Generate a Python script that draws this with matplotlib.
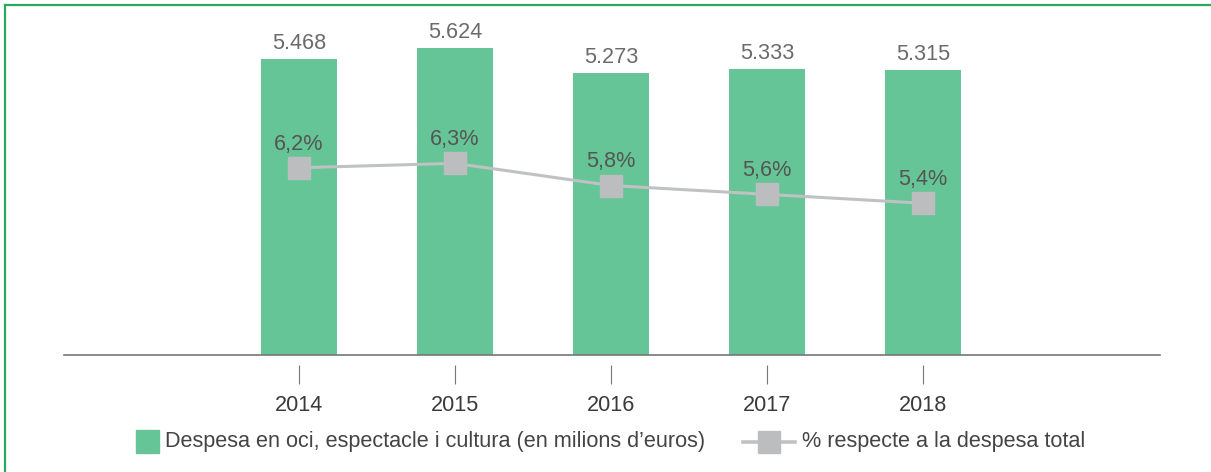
import matplotlib.pyplot as plt
from matplotlib.lines import Line2D
from matplotlib.patches import Rectangle

plt.rcParams["font.family"] = ["Liberation Sans", "DejaVu Sans"]

years = ["2014", "2015", "2016", "2017", "2018"]
despesa = [5468, 5624, 5273, 5333, 5315]
percent = [6.2, 6.3, 5.8, 5.6, 5.4]

BAR_COLOR = "#66c596"
LINE_COLOR = "#c0c1c3"
MARKER_COLOR = "#bcbdbf"
FRAME_COLOR = "#2aa864"
FS = 15.6

W, H = 1211, 472
fig = plt.figure(figsize=(W / 100, H / 100), dpi=100)

# axes box in pixel terms
left, right, bottom, top = 64, 1160, 355, 20
ax = fig.add_axes([left / W, 1 - bottom / H, (right - left) / W, (bottom - top) / H])
ax2 = ax.twinx()

x = list(range(len(years)))
ax.bar(x, despesa, width=0.487, bottom=0, color=BAR_COLOR, zorder=2)
ax.set_xlim(-1.506, 5.519)
ax.set_ylim(1314, 6020)

for xi, v in zip(x, despesa):
    label = f"{v / 1000:.3f}"
    ax.annotate(label, (xi, v), xytext=(0, 3.5), textcoords="offset points",
                ha="center", va="bottom", fontsize=FS, color="#6b6b6b")

ax2.plot(x, percent, color=LINE_COLOR, linewidth=2.2, marker="s",
         markersize=16.5, markerfacecolor=MARKER_COLOR, markeredgecolor=MARKER_COLOR,
         zorder=3)
ax2.set_ylim(1.98, 9.53)
for xi, p in zip(x, percent):
    ax2.annotate(f"{p:.1f}".replace(".", ",") + "%", (xi, p), xytext=(0, 13),
                 textcoords="offset points", ha="center", va="baseline",
                 fontsize=FS, color="#555555")

for a in (ax, ax2):
    for s in a.spines.values():
        s.set_visible(False)
    a.set_yticks([])
ax.axhline(1314, color="#777777", linewidth=1.2, zorder=4, clip_on=False)

ax.spines["bottom"].set_position(("outward", 7))
ax.set_xticks(x)
ax.set_xticklabels(years)
ax.tick_params(axis="x", length=13.5, width=0.8, color="#777777", pad=8,
               labelsize=FS, labelcolor="#3a3a3a")

# green frame on top and left
fig.add_artist(Line2D([5 / W, 1], [1 - 5 / H, 1 - 5 / H], color=FRAME_COLOR, linewidth=1.6))
fig.add_artist(Line2D([5 / W, 5 / W], [0, 1 - 5 / H], color=FRAME_COLOR, linewidth=1.6))

# legend
ly = 1 - 442 / H
fig.add_artist(Rectangle((136 / W, 1 - 453 / H), 23 / W, 23 / H, color=BAR_COLOR,
                         transform=fig.transFigure))
fig.text(165 / W, ly, "Despesa en oci, espectacle i cultura (en milions d\u2019euros)",
         ha="left", va="center", fontsize=FS, color="#444444")
fig.add_artist(Line2D([743 / W, 795 / W], [ly, ly], color=LINE_COLOR, linewidth=2.6))
fig.add_artist(Line2D([768.5 / W], [ly], marker="s", markersize=16.5,
                      markerfacecolor=MARKER_COLOR, markeredgecolor=MARKER_COLOR))
fig.text(802 / W, ly, "% respecte a la despesa total", ha="left", va="center",
         fontsize=FS, color="#444444")

fig.savefig("out.png", dpi=100)
